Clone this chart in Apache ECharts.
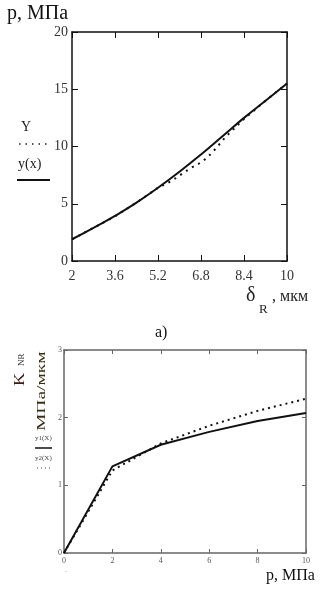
<!DOCTYPE html>
<html>
<head>
<meta charset="utf-8">
<script src="https://cdn.jsdelivr.net/npm/echarts@6.0.0/dist/echarts.min.js"></script>
<style>
  html, body { margin: 0; padding: 0; background: #fff; }
  #chart { width: 326px; height: 595px; }
</style>
</head>
<body>
<div id="chart"></div>
<script>
// верхний график: p(δR)
var topXTicks = [2, 3.6, 5.2, 6.8, 8.4, 10];
var fitCurve = [ // y(x), сплошная
  [2, 1.9], [2.8, 2.9], [3.6, 3.95], [4.4, 5.1], [5.2, 6.4], [6, 7.8],
  [6.8, 9.3], [7.6, 10.9], [8.4, 12.5], [9.2, 14.0], [10, 15.5]
];
var measured = [ // Y, точки
  [2, 1.9], [3.6, 3.9], [4.4, 5.1], [5.2, 6.4], [5.58, 6.84], [5.87, 7.25],
  [6.14, 7.69], [6.42, 8.12], [6.7, 8.47], [6.97, 8.91], [7.2, 9.43],
  [7.44, 10.07], [7.7, 10.8], [8.4, 12.4], [9.2, 14.0], [10, 15.5]
];

// нижний график: K_NR(p)
var pValues = [0, 2, 4, 6, 8, 10];
var y1 = [0, 1.28, 1.6, 1.79, 1.95, 2.07];
var y2 = [0, 1.22, 1.62, 1.88, 2.1, 2.28];

var serif = "Liberation Serif";
var chart = echarts.init(document.getElementById("chart"));

function pairs(xs, ys) {
  return xs.map(function (x, i) { return [x, ys[i]]; });
}

// оси с засечками внутрь (с зеркальными)
function boxAxis(gridIndex, pos, opts) {
  var a = {
    type: "value",
    gridIndex: gridIndex,
    position: pos,
    min: opts.min,
    max: opts.max,
    axisLine: { show: true, onZero: false, lineStyle: { color: opts.color, width: opts.lw } },
    axisTick: { show: true, inside: true, length: opts.tickLen, lineStyle: { color: opts.color, width: 1 } },
    axisLabel: {
      show: opts.label,
      color: opts.labelColor,
      fontFamily: serif,
      fontSize: opts.fontSize,
      margin: opts.margin
    },
    splitLine: { show: false }
  };
  if (opts.interval) a.interval = opts.interval;
  if (opts.custom) {
    a.axisTick.customValues = opts.custom;
    a.axisLabel.customValues = opts.custom;
  }
  return a;
}

var topX = { min: 2, max: 10, custom: topXTicks, color: "#111", lw: 1.5, tickLen: 6, labelColor: "#333", fontSize: 14, margin: 8 };
var topY = { min: 0, max: 20, interval: 5, color: "#111", lw: 1.5, tickLen: 6, labelColor: "#333", fontSize: 14, margin: 4 };
var botX = { min: 0, max: 10, interval: 2, color: "#666", lw: 1.5, tickLen: 4, labelColor: "#555", fontSize: 8, margin: 4 };
var botY = { min: 0, max: 3, interval: 1, color: "#666", lw: 1.5, tickLen: 4, labelColor: "#555", fontSize: 8, margin: 2 };

function withLabel(o, show) { return Object.assign({}, o, { label: show }); }

var option = {
  animation: false,
  grid: [
    { left: 72, top: 32, width: 215, height: 229 },
    { left: 64, top: 350, width: 242, height: 203 }
  ],
  xAxis: [
    boxAxis(0, "bottom", withLabel(topX, true)),
    boxAxis(0, "top", withLabel(topX, false)),
    boxAxis(1, "bottom", withLabel(botX, true)),
    boxAxis(1, "top", withLabel(botX, false))
  ],
  yAxis: [
    boxAxis(0, "left", withLabel(topY, true)),
    boxAxis(0, "right", withLabel(topY, false)),
    boxAxis(1, "left", withLabel(botY, true)),
    boxAxis(1, "right", withLabel(botY, false))
  ],
  series: [
    {
      name: "Y", type: "line", xAxisIndex: 0, yAxisIndex: 0,
      data: measured, showSymbol: false,
      lineStyle: { color: "#111", width: 2, type: [2, 5] }
    },
    {
      name: "y(x)", type: "line", xAxisIndex: 0, yAxisIndex: 0,
      data: fitCurve, showSymbol: false, smooth: true,
      lineStyle: { color: "#111", width: 2 }
    },
    {
      name: "y2(X)", type: "line", xAxisIndex: 2, yAxisIndex: 2,
      data: pairs(pValues, y2), showSymbol: false,
      lineStyle: { color: "#111", width: 2, type: [2, 4] }
    },
    {
      name: "y1(X)", type: "line", xAxisIndex: 2, yAxisIndex: 2,
      data: pairs(pValues, y1), showSymbol: false,
      lineStyle: { color: "#111", width: 2 }
    }
  ],
  graphic: [
    // верх
    { type: "text", x: 7, y: 4, style: { text: "p, МПа", font: "20px " + serif, fill: "#111" } },
    { type: "text", x: 21, y: 120, style: { text: "Y", font: "14px " + serif, fill: "#222" } },
    { type: "line", shape: { x1: 19, y1: 144, x2: 50, y2: 144 }, style: { stroke: "#222", lineWidth: 1.5, lineDash: [1.5, 5] } },
    { type: "text", x: 18, y: 157, style: { text: "y(x)", font: "14px " + serif, fill: "#222" } },
    { type: "line", shape: { x1: 17, y1: 180, x2: 50, y2: 180 }, style: { stroke: "#111", lineWidth: 2 } },
    { type: "text", x: 246, y: 286, style: { text: "δ", font: "20px " + serif, fill: "#222" } },
    { type: "text", x: 259, y: 303, style: { text: "R", font: "13px " + serif, fill: "#222" } },
    { type: "text", x: 272, y: 289, style: { text: ", мкм", font: "16px " + serif, fill: "#222" } },
    { type: "text", x: 155, y: 325, style: { text: "a)", font: "16px " + serif, fill: "#111" } },
    // низ
    { type: "text", x: 13, y: 386, rotation: Math.PI / 2, scaleX: 1.3, style: { text: "K", font: "14px " + serif, fill: "#3a1a12" } },
    { type: "text", x: 17, y: 366, rotation: Math.PI / 2, style: { text: "NR", font: "9px " + serif, fill: "#333" } },
    { type: "text", x: 35, y: 431, rotation: Math.PI / 2, scaleX: 1.5, style: { text: "МПа/мкм", font: "13px " + serif, fill: "#3a2e14" } },
    { type: "text", x: 35, y: 435, style: { text: "y1(X)", font: "7px " + serif, fill: "#444" } },
    { type: "line", shape: { x1: 35, y1: 448, x2: 52, y2: 448 }, style: { stroke: "#111", lineWidth: 1.5 } },
    { type: "text", x: 35, y: 455, style: { text: "y2(X)", font: "7px " + serif, fill: "#444" } },
    { type: "line", shape: { x1: 37, y1: 468, x2: 51, y2: 468 }, style: { stroke: "#444", lineWidth: 1.2, lineDash: [1, 3] } },
    { type: "text", x: 65, y: 566, style: { text: ".", font: "8px " + serif, fill: "#777" } },
    { type: "text", x: 266, y: 568, style: { text: "p, МПа", font: "16px " + serif, fill: "#111" } }
  ]
};

chart.setOption(option);
</script>
</body>
</html>
